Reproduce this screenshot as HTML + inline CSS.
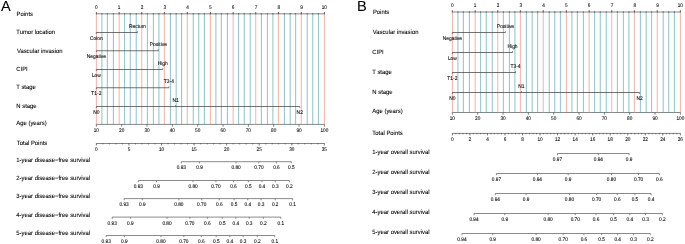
<!DOCTYPE html>
<html><head><meta charset="utf-8"><style>
html,body{margin:0;padding:0;background:#fff;}
body{width:685px;height:244px;overflow:hidden;}
svg{display:block;font-family:"Liberation Sans", sans-serif;text-rendering:geometricPrecision;}
text{stroke:#000;stroke-width:0.07px;}
</style></head><body>
<div style="will-change:transform;width:685px;height:244px"><svg width="685" height="244" viewBox="0 0 685 244">
<rect width="685" height="244" fill="#fff"/>
<text x="1.00" y="11.10" font-size="14.6" text-anchor="start" fill="#000" stroke-width="0">A</text>
<line x1="96.36" y1="13.80" x2="324.36" y2="13.80" stroke="#b0b0b0" stroke-width="1.6"/>
<line x1="96.36" y1="124.40" x2="324.36" y2="124.40" stroke="#888" stroke-width="1.0"/>
<line x1="96.36" y1="13.80" x2="96.36" y2="124.90" stroke="#e98570" stroke-width="0.85" stroke-opacity="0.75"/>
<line x1="101.92" y1="13.80" x2="101.92" y2="124.90" stroke="#4a9fa5" stroke-width="0.85" stroke-opacity="0.75"/>
<line x1="107.35" y1="13.80" x2="107.35" y2="124.90" stroke="#4a9fa5" stroke-width="0.85" stroke-opacity="0.75"/>
<line x1="113.39" y1="13.80" x2="113.39" y2="124.90" stroke="#4a9fa5" stroke-width="0.85" stroke-opacity="0.75"/>
<line x1="119.16" y1="13.80" x2="119.16" y2="124.90" stroke="#e98570" stroke-width="0.85" stroke-opacity="0.75"/>
<line x1="124.64" y1="13.80" x2="124.64" y2="124.90" stroke="#4a9fa5" stroke-width="0.85" stroke-opacity="0.75"/>
<line x1="130.26" y1="13.80" x2="130.26" y2="124.90" stroke="#4a9fa5" stroke-width="0.85" stroke-opacity="0.75"/>
<line x1="136.22" y1="13.80" x2="136.22" y2="124.90" stroke="#4a9fa5" stroke-width="0.85" stroke-opacity="0.75"/>
<line x1="141.76" y1="13.80" x2="141.76" y2="124.90" stroke="#e98570" stroke-width="0.85" stroke-opacity="0.75"/>
<line x1="147.37" y1="13.80" x2="147.37" y2="124.90" stroke="#4a9fa5" stroke-width="0.85" stroke-opacity="0.75"/>
<line x1="153.36" y1="13.80" x2="153.36" y2="124.90" stroke="#4a9fa5" stroke-width="0.85" stroke-opacity="0.75"/>
<line x1="158.92" y1="13.80" x2="158.92" y2="124.90" stroke="#4a9fa5" stroke-width="0.85" stroke-opacity="0.75"/>
<line x1="164.35" y1="13.80" x2="164.35" y2="124.90" stroke="#e98570" stroke-width="0.85" stroke-opacity="0.75"/>
<line x1="170.39" y1="13.80" x2="170.39" y2="124.90" stroke="#4a9fa5" stroke-width="0.85" stroke-opacity="0.75"/>
<line x1="176.16" y1="13.80" x2="176.16" y2="124.90" stroke="#4a9fa5" stroke-width="0.85" stroke-opacity="0.75"/>
<line x1="181.64" y1="13.80" x2="181.64" y2="124.90" stroke="#4a9fa5" stroke-width="0.85" stroke-opacity="0.75"/>
<line x1="187.26" y1="13.80" x2="187.26" y2="124.90" stroke="#e98570" stroke-width="0.85" stroke-opacity="0.75"/>
<line x1="193.22" y1="13.80" x2="193.22" y2="124.90" stroke="#4a9fa5" stroke-width="0.85" stroke-opacity="0.75"/>
<line x1="198.76" y1="13.80" x2="198.76" y2="124.90" stroke="#4a9fa5" stroke-width="0.85" stroke-opacity="0.75"/>
<line x1="204.37" y1="13.80" x2="204.37" y2="124.90" stroke="#4a9fa5" stroke-width="0.85" stroke-opacity="0.75"/>
<line x1="210.36" y1="13.80" x2="210.36" y2="124.90" stroke="#e98570" stroke-width="0.85" stroke-opacity="0.75"/>
<line x1="215.92" y1="13.80" x2="215.92" y2="124.90" stroke="#4a9fa5" stroke-width="0.85" stroke-opacity="0.75"/>
<line x1="221.35" y1="13.80" x2="221.35" y2="124.90" stroke="#4a9fa5" stroke-width="0.85" stroke-opacity="0.75"/>
<line x1="227.39" y1="13.80" x2="227.39" y2="124.90" stroke="#4a9fa5" stroke-width="0.85" stroke-opacity="0.75"/>
<line x1="233.16" y1="13.80" x2="233.16" y2="124.90" stroke="#e98570" stroke-width="0.85" stroke-opacity="0.75"/>
<line x1="238.64" y1="13.80" x2="238.64" y2="124.90" stroke="#4a9fa5" stroke-width="0.85" stroke-opacity="0.75"/>
<line x1="244.26" y1="13.80" x2="244.26" y2="124.90" stroke="#4a9fa5" stroke-width="0.85" stroke-opacity="0.75"/>
<line x1="250.22" y1="13.80" x2="250.22" y2="124.90" stroke="#4a9fa5" stroke-width="0.85" stroke-opacity="0.75"/>
<line x1="255.76" y1="13.80" x2="255.76" y2="124.90" stroke="#e98570" stroke-width="0.85" stroke-opacity="0.75"/>
<line x1="261.37" y1="13.80" x2="261.37" y2="124.90" stroke="#4a9fa5" stroke-width="0.85" stroke-opacity="0.75"/>
<line x1="267.36" y1="13.80" x2="267.36" y2="124.90" stroke="#4a9fa5" stroke-width="0.85" stroke-opacity="0.75"/>
<line x1="272.92" y1="13.80" x2="272.92" y2="124.90" stroke="#4a9fa5" stroke-width="0.85" stroke-opacity="0.75"/>
<line x1="278.35" y1="13.80" x2="278.35" y2="124.90" stroke="#e98570" stroke-width="0.85" stroke-opacity="0.75"/>
<line x1="284.39" y1="13.80" x2="284.39" y2="124.90" stroke="#4a9fa5" stroke-width="0.85" stroke-opacity="0.75"/>
<line x1="290.16" y1="13.80" x2="290.16" y2="124.90" stroke="#4a9fa5" stroke-width="0.85" stroke-opacity="0.75"/>
<line x1="295.64" y1="13.80" x2="295.64" y2="124.90" stroke="#4a9fa5" stroke-width="0.85" stroke-opacity="0.75"/>
<line x1="301.26" y1="13.80" x2="301.26" y2="124.90" stroke="#e98570" stroke-width="0.85" stroke-opacity="0.75"/>
<line x1="307.22" y1="13.80" x2="307.22" y2="124.90" stroke="#4a9fa5" stroke-width="0.85" stroke-opacity="0.75"/>
<line x1="312.76" y1="13.80" x2="312.76" y2="124.90" stroke="#4a9fa5" stroke-width="0.85" stroke-opacity="0.75"/>
<line x1="318.37" y1="13.80" x2="318.37" y2="124.90" stroke="#4a9fa5" stroke-width="0.85" stroke-opacity="0.75"/>
<line x1="324.36" y1="13.80" x2="324.36" y2="124.90" stroke="#e98570" stroke-width="0.85" stroke-opacity="0.75"/>
<line x1="96.36" y1="14.30" x2="96.36" y2="12.00" stroke="#333" stroke-width="0.8"/>
<line x1="101.92" y1="14.30" x2="101.92" y2="13.20" stroke="#333" stroke-width="0.8"/>
<line x1="107.35" y1="14.30" x2="107.35" y2="13.20" stroke="#333" stroke-width="0.8"/>
<line x1="113.39" y1="14.30" x2="113.39" y2="13.20" stroke="#333" stroke-width="0.8"/>
<line x1="119.16" y1="14.30" x2="119.16" y2="12.00" stroke="#333" stroke-width="0.8"/>
<line x1="124.64" y1="14.30" x2="124.64" y2="13.20" stroke="#333" stroke-width="0.8"/>
<line x1="130.26" y1="14.30" x2="130.26" y2="13.20" stroke="#333" stroke-width="0.8"/>
<line x1="136.22" y1="14.30" x2="136.22" y2="13.20" stroke="#333" stroke-width="0.8"/>
<line x1="141.76" y1="14.30" x2="141.76" y2="12.00" stroke="#333" stroke-width="0.8"/>
<line x1="147.37" y1="14.30" x2="147.37" y2="13.20" stroke="#333" stroke-width="0.8"/>
<line x1="153.36" y1="14.30" x2="153.36" y2="13.20" stroke="#333" stroke-width="0.8"/>
<line x1="158.92" y1="14.30" x2="158.92" y2="13.20" stroke="#333" stroke-width="0.8"/>
<line x1="164.35" y1="14.30" x2="164.35" y2="12.00" stroke="#333" stroke-width="0.8"/>
<line x1="170.39" y1="14.30" x2="170.39" y2="13.20" stroke="#333" stroke-width="0.8"/>
<line x1="176.16" y1="14.30" x2="176.16" y2="13.20" stroke="#333" stroke-width="0.8"/>
<line x1="181.64" y1="14.30" x2="181.64" y2="13.20" stroke="#333" stroke-width="0.8"/>
<line x1="187.26" y1="14.30" x2="187.26" y2="12.00" stroke="#333" stroke-width="0.8"/>
<line x1="193.22" y1="14.30" x2="193.22" y2="13.20" stroke="#333" stroke-width="0.8"/>
<line x1="198.76" y1="14.30" x2="198.76" y2="13.20" stroke="#333" stroke-width="0.8"/>
<line x1="204.37" y1="14.30" x2="204.37" y2="13.20" stroke="#333" stroke-width="0.8"/>
<line x1="210.36" y1="14.30" x2="210.36" y2="12.00" stroke="#333" stroke-width="0.8"/>
<line x1="215.92" y1="14.30" x2="215.92" y2="13.20" stroke="#333" stroke-width="0.8"/>
<line x1="221.35" y1="14.30" x2="221.35" y2="13.20" stroke="#333" stroke-width="0.8"/>
<line x1="227.39" y1="14.30" x2="227.39" y2="13.20" stroke="#333" stroke-width="0.8"/>
<line x1="233.16" y1="14.30" x2="233.16" y2="12.00" stroke="#333" stroke-width="0.8"/>
<line x1="238.64" y1="14.30" x2="238.64" y2="13.20" stroke="#333" stroke-width="0.8"/>
<line x1="244.26" y1="14.30" x2="244.26" y2="13.20" stroke="#333" stroke-width="0.8"/>
<line x1="250.22" y1="14.30" x2="250.22" y2="13.20" stroke="#333" stroke-width="0.8"/>
<line x1="255.76" y1="14.30" x2="255.76" y2="12.00" stroke="#333" stroke-width="0.8"/>
<line x1="261.37" y1="14.30" x2="261.37" y2="13.20" stroke="#333" stroke-width="0.8"/>
<line x1="267.36" y1="14.30" x2="267.36" y2="13.20" stroke="#333" stroke-width="0.8"/>
<line x1="272.92" y1="14.30" x2="272.92" y2="13.20" stroke="#333" stroke-width="0.8"/>
<line x1="278.35" y1="14.30" x2="278.35" y2="12.00" stroke="#333" stroke-width="0.8"/>
<line x1="284.39" y1="14.30" x2="284.39" y2="13.20" stroke="#333" stroke-width="0.8"/>
<line x1="290.16" y1="14.30" x2="290.16" y2="13.20" stroke="#333" stroke-width="0.8"/>
<line x1="295.64" y1="14.30" x2="295.64" y2="13.20" stroke="#333" stroke-width="0.8"/>
<line x1="301.26" y1="14.30" x2="301.26" y2="12.00" stroke="#333" stroke-width="0.8"/>
<line x1="307.22" y1="14.30" x2="307.22" y2="13.20" stroke="#333" stroke-width="0.8"/>
<line x1="312.76" y1="14.30" x2="312.76" y2="13.20" stroke="#333" stroke-width="0.8"/>
<line x1="318.37" y1="14.30" x2="318.37" y2="13.20" stroke="#333" stroke-width="0.8"/>
<line x1="324.36" y1="14.30" x2="324.36" y2="12.00" stroke="#333" stroke-width="0.8"/>
<text transform="translate(96.36 9.30) scale(1 1.12)" font-size="4.7" text-anchor="middle" fill="#000" stroke-width="0.15">0</text>
<text transform="translate(119.16 9.30) scale(1 1.12)" font-size="4.7" text-anchor="middle" fill="#000" stroke-width="0.15">1</text>
<text transform="translate(141.96 9.30) scale(1 1.12)" font-size="4.7" text-anchor="middle" fill="#000" stroke-width="0.15">2</text>
<text transform="translate(164.76 9.30) scale(1 1.12)" font-size="4.7" text-anchor="middle" fill="#000" stroke-width="0.15">3</text>
<text transform="translate(187.56 9.30) scale(1 1.12)" font-size="4.7" text-anchor="middle" fill="#000" stroke-width="0.15">4</text>
<text transform="translate(210.36 9.30) scale(1 1.12)" font-size="4.7" text-anchor="middle" fill="#000" stroke-width="0.15">5</text>
<text transform="translate(233.16 9.30) scale(1 1.12)" font-size="4.7" text-anchor="middle" fill="#000" stroke-width="0.15">6</text>
<text transform="translate(255.96 9.30) scale(1 1.12)" font-size="4.7" text-anchor="middle" fill="#000" stroke-width="0.15">7</text>
<text transform="translate(278.76 9.30) scale(1 1.12)" font-size="4.7" text-anchor="middle" fill="#000" stroke-width="0.15">8</text>
<text transform="translate(301.56 9.30) scale(1 1.12)" font-size="4.7" text-anchor="middle" fill="#000" stroke-width="0.15">9</text>
<text transform="translate(324.36 9.30) scale(1 1.12)" font-size="4.7" text-anchor="middle" fill="#000" stroke-width="0.15">10</text>
<text transform="translate(16.60 15.60) scale(1 1.05)" font-size="5.9" text-anchor="start" fill="#000">Points</text>
<text transform="translate(16.30 33.80) scale(1 1.05)" font-size="5.9" text-anchor="start" fill="#000">Tumor location</text>
<text transform="translate(16.90 52.60) scale(1 1.05)" font-size="5.9" text-anchor="start" fill="#000">Vascular invasion</text>
<text transform="translate(16.30 70.70) scale(1 1.05)" font-size="5.9" text-anchor="start" fill="#000">CIPI</text>
<text transform="translate(16.30 88.90) scale(1 1.05)" font-size="5.9" text-anchor="start" fill="#000">T stage</text>
<text transform="translate(16.30 107.50) scale(1 1.05)" font-size="5.9" text-anchor="start" fill="#000">N stage</text>
<text transform="translate(16.30 125.30) scale(1 1.05)" font-size="5.9" text-anchor="start" fill="#000">Age (years)</text>
<text transform="translate(16.80 145.30) scale(1 1.05)" font-size="5.9" text-anchor="start" fill="#000">Total Points</text>
<text transform="translate(16.30 161.80) scale(1 1.05)" font-size="5.9" text-anchor="start" fill="#000">1-year disease−free survival</text>
<text transform="translate(16.30 179.90) scale(1 1.05)" font-size="5.9" text-anchor="start" fill="#000">2-year disease−free survival</text>
<text transform="translate(16.30 198.40) scale(1 1.05)" font-size="5.9" text-anchor="start" fill="#000">3-year disease−free survival</text>
<text transform="translate(16.30 216.90) scale(1 1.05)" font-size="5.9" text-anchor="start" fill="#000">4-year disease−free survival</text>
<text transform="translate(16.30 235.40) scale(1 1.05)" font-size="5.9" text-anchor="start" fill="#000">5-year disease−free survival</text>
<line x1="96.36" y1="32.50" x2="137.40" y2="32.50" stroke="#444" stroke-width="0.75"/>
<line x1="96.36" y1="32.50" x2="96.36" y2="33.80" stroke="#444" stroke-width="0.7"/>
<text transform="translate(96.36 39.50) scale(1 1.08)" font-size="4.9" text-anchor="middle" fill="#000">Colon</text>
<line x1="137.40" y1="32.50" x2="137.40" y2="31.20" stroke="#444" stroke-width="0.7"/>
<text transform="translate(137.40 27.60) scale(1 1.08)" font-size="4.9" text-anchor="middle" fill="#000">Rectum</text>
<line x1="96.36" y1="50.75" x2="158.38" y2="50.75" stroke="#444" stroke-width="0.75"/>
<line x1="96.36" y1="50.75" x2="96.36" y2="52.05" stroke="#444" stroke-width="0.7"/>
<text transform="translate(96.36 57.75) scale(1 1.08)" font-size="4.9" text-anchor="middle" fill="#000">Negative</text>
<line x1="158.38" y1="50.75" x2="158.38" y2="49.45" stroke="#444" stroke-width="0.7"/>
<text transform="translate(158.38 45.85) scale(1 1.08)" font-size="4.9" text-anchor="middle" fill="#000">Positive</text>
<line x1="96.36" y1="69.50" x2="162.71" y2="69.50" stroke="#444" stroke-width="0.75"/>
<line x1="96.36" y1="69.50" x2="96.36" y2="70.80" stroke="#444" stroke-width="0.7"/>
<text transform="translate(96.36 76.50) scale(1 1.08)" font-size="4.9" text-anchor="middle" fill="#000">Low</text>
<line x1="162.71" y1="69.50" x2="162.71" y2="68.20" stroke="#444" stroke-width="0.7"/>
<text transform="translate(162.71 64.60) scale(1 1.08)" font-size="4.9" text-anchor="middle" fill="#000">High</text>
<line x1="96.36" y1="87.75" x2="168.86" y2="87.75" stroke="#444" stroke-width="0.75"/>
<line x1="96.36" y1="87.75" x2="96.36" y2="89.05" stroke="#444" stroke-width="0.7"/>
<text transform="translate(96.36 94.75) scale(1 1.08)" font-size="4.9" text-anchor="middle" fill="#000">T1-2</text>
<line x1="168.86" y1="87.75" x2="168.86" y2="86.45" stroke="#444" stroke-width="0.7"/>
<text transform="translate(168.86 82.85) scale(1 1.08)" font-size="4.9" text-anchor="middle" fill="#000">T3-4</text>
<line x1="96.36" y1="106.50" x2="299.74" y2="106.50" stroke="#444" stroke-width="0.75"/>
<line x1="96.36" y1="106.50" x2="96.36" y2="107.80" stroke="#444" stroke-width="0.7"/>
<text transform="translate(96.36 113.50) scale(1 1.08)" font-size="4.9" text-anchor="middle" fill="#000">N0</text>
<line x1="175.70" y1="106.50" x2="175.70" y2="105.20" stroke="#444" stroke-width="0.7"/>
<text transform="translate(175.70 101.60) scale(1 1.08)" font-size="4.9" text-anchor="middle" fill="#000">N1</text>
<line x1="299.74" y1="106.50" x2="299.74" y2="107.80" stroke="#444" stroke-width="0.7"/>
<text transform="translate(299.74 113.50) scale(1 1.08)" font-size="4.9" text-anchor="middle" fill="#000">N2</text>
<line x1="96.36" y1="124.40" x2="96.36" y2="126.60" stroke="#555" stroke-width="0.8"/>
<text transform="translate(96.36 131.80) scale(1 1.12)" font-size="4.7" text-anchor="middle" fill="#000" stroke-width="0.15">10</text>
<line x1="121.69" y1="124.40" x2="121.69" y2="126.60" stroke="#555" stroke-width="0.8"/>
<text transform="translate(121.69 131.80) scale(1 1.12)" font-size="4.7" text-anchor="middle" fill="#000" stroke-width="0.15">20</text>
<line x1="147.03" y1="124.40" x2="147.03" y2="126.60" stroke="#555" stroke-width="0.8"/>
<text transform="translate(147.03 131.80) scale(1 1.12)" font-size="4.7" text-anchor="middle" fill="#000" stroke-width="0.15">30</text>
<line x1="172.36" y1="124.40" x2="172.36" y2="126.60" stroke="#555" stroke-width="0.8"/>
<text transform="translate(172.36 131.80) scale(1 1.12)" font-size="4.7" text-anchor="middle" fill="#000" stroke-width="0.15">40</text>
<line x1="197.69" y1="124.40" x2="197.69" y2="126.60" stroke="#555" stroke-width="0.8"/>
<text transform="translate(197.69 131.80) scale(1 1.12)" font-size="4.7" text-anchor="middle" fill="#000" stroke-width="0.15">50</text>
<line x1="223.03" y1="124.40" x2="223.03" y2="126.60" stroke="#555" stroke-width="0.8"/>
<text transform="translate(223.03 131.80) scale(1 1.12)" font-size="4.7" text-anchor="middle" fill="#000" stroke-width="0.15">60</text>
<line x1="248.36" y1="124.40" x2="248.36" y2="126.60" stroke="#555" stroke-width="0.8"/>
<text transform="translate(248.36 131.80) scale(1 1.12)" font-size="4.7" text-anchor="middle" fill="#000" stroke-width="0.15">70</text>
<line x1="273.69" y1="124.40" x2="273.69" y2="126.60" stroke="#555" stroke-width="0.8"/>
<text transform="translate(273.69 131.80) scale(1 1.12)" font-size="4.7" text-anchor="middle" fill="#000" stroke-width="0.15">80</text>
<line x1="299.03" y1="124.40" x2="299.03" y2="126.60" stroke="#555" stroke-width="0.8"/>
<text transform="translate(299.03 131.80) scale(1 1.12)" font-size="4.7" text-anchor="middle" fill="#000" stroke-width="0.15">90</text>
<line x1="324.36" y1="124.40" x2="324.36" y2="126.60" stroke="#555" stroke-width="0.8"/>
<text transform="translate(324.36 131.80) scale(1 1.12)" font-size="4.7" text-anchor="middle" fill="#000" stroke-width="0.15">100</text>
<line x1="96.36" y1="143.50" x2="324.36" y2="143.50" stroke="#858585" stroke-width="1.0"/>
<line x1="96.36" y1="143.30" x2="96.36" y2="145.50" stroke="#444" stroke-width="0.75"/>
<text transform="translate(96.36 150.90) scale(1 1.12)" font-size="4.7" text-anchor="middle" fill="#000" stroke-width="0.15">0</text>
<line x1="102.87" y1="143.30" x2="102.87" y2="144.40" stroke="#444" stroke-width="0.75"/>
<line x1="109.39" y1="143.30" x2="109.39" y2="144.40" stroke="#444" stroke-width="0.75"/>
<line x1="115.90" y1="143.30" x2="115.90" y2="144.40" stroke="#444" stroke-width="0.75"/>
<line x1="122.42" y1="143.30" x2="122.42" y2="144.40" stroke="#444" stroke-width="0.75"/>
<line x1="128.93" y1="143.30" x2="128.93" y2="145.50" stroke="#444" stroke-width="0.75"/>
<text transform="translate(128.93 150.90) scale(1 1.12)" font-size="4.7" text-anchor="middle" fill="#000" stroke-width="0.15">5</text>
<line x1="135.45" y1="143.30" x2="135.45" y2="144.40" stroke="#444" stroke-width="0.75"/>
<line x1="141.96" y1="143.30" x2="141.96" y2="144.40" stroke="#444" stroke-width="0.75"/>
<line x1="148.47" y1="143.30" x2="148.47" y2="144.40" stroke="#444" stroke-width="0.75"/>
<line x1="154.99" y1="143.30" x2="154.99" y2="144.40" stroke="#444" stroke-width="0.75"/>
<line x1="161.50" y1="143.30" x2="161.50" y2="145.50" stroke="#444" stroke-width="0.75"/>
<text transform="translate(161.50 150.90) scale(1 1.12)" font-size="4.7" text-anchor="middle" fill="#000" stroke-width="0.15">10</text>
<line x1="168.02" y1="143.30" x2="168.02" y2="144.40" stroke="#444" stroke-width="0.75"/>
<line x1="174.53" y1="143.30" x2="174.53" y2="144.40" stroke="#444" stroke-width="0.75"/>
<line x1="181.05" y1="143.30" x2="181.05" y2="144.40" stroke="#444" stroke-width="0.75"/>
<line x1="187.56" y1="143.30" x2="187.56" y2="144.40" stroke="#444" stroke-width="0.75"/>
<line x1="194.07" y1="143.30" x2="194.07" y2="145.50" stroke="#444" stroke-width="0.75"/>
<text transform="translate(194.07 150.90) scale(1 1.12)" font-size="4.7" text-anchor="middle" fill="#000" stroke-width="0.15">15</text>
<line x1="200.59" y1="143.30" x2="200.59" y2="144.40" stroke="#444" stroke-width="0.75"/>
<line x1="207.10" y1="143.30" x2="207.10" y2="144.40" stroke="#444" stroke-width="0.75"/>
<line x1="213.62" y1="143.30" x2="213.62" y2="144.40" stroke="#444" stroke-width="0.75"/>
<line x1="220.13" y1="143.30" x2="220.13" y2="144.40" stroke="#444" stroke-width="0.75"/>
<line x1="226.65" y1="143.30" x2="226.65" y2="145.50" stroke="#444" stroke-width="0.75"/>
<text transform="translate(226.65 150.90) scale(1 1.12)" font-size="4.7" text-anchor="middle" fill="#000" stroke-width="0.15">20</text>
<line x1="233.16" y1="143.30" x2="233.16" y2="144.40" stroke="#444" stroke-width="0.75"/>
<line x1="239.67" y1="143.30" x2="239.67" y2="144.40" stroke="#444" stroke-width="0.75"/>
<line x1="246.19" y1="143.30" x2="246.19" y2="144.40" stroke="#444" stroke-width="0.75"/>
<line x1="252.70" y1="143.30" x2="252.70" y2="144.40" stroke="#444" stroke-width="0.75"/>
<line x1="259.22" y1="143.30" x2="259.22" y2="145.50" stroke="#444" stroke-width="0.75"/>
<text transform="translate(259.22 150.90) scale(1 1.12)" font-size="4.7" text-anchor="middle" fill="#000" stroke-width="0.15">25</text>
<line x1="265.73" y1="143.30" x2="265.73" y2="144.40" stroke="#444" stroke-width="0.75"/>
<line x1="272.25" y1="143.30" x2="272.25" y2="144.40" stroke="#444" stroke-width="0.75"/>
<line x1="278.76" y1="143.30" x2="278.76" y2="144.40" stroke="#444" stroke-width="0.75"/>
<line x1="285.27" y1="143.30" x2="285.27" y2="144.40" stroke="#444" stroke-width="0.75"/>
<line x1="291.79" y1="143.30" x2="291.79" y2="145.50" stroke="#444" stroke-width="0.75"/>
<text transform="translate(291.79 150.90) scale(1 1.12)" font-size="4.7" text-anchor="middle" fill="#000" stroke-width="0.15">30</text>
<line x1="298.30" y1="143.30" x2="298.30" y2="144.40" stroke="#444" stroke-width="0.75"/>
<line x1="304.82" y1="143.30" x2="304.82" y2="144.40" stroke="#444" stroke-width="0.75"/>
<line x1="311.33" y1="143.30" x2="311.33" y2="144.40" stroke="#444" stroke-width="0.75"/>
<line x1="317.85" y1="143.30" x2="317.85" y2="144.40" stroke="#444" stroke-width="0.75"/>
<line x1="324.36" y1="143.30" x2="324.36" y2="145.50" stroke="#444" stroke-width="0.75"/>
<text transform="translate(324.36 150.90) scale(1 1.12)" font-size="4.7" text-anchor="middle" fill="#000" stroke-width="0.15">35</text>
<line x1="181.29" y1="161.70" x2="291.33" y2="161.70" stroke="#8a8a8a" stroke-width="1.0"/>
<line x1="181.29" y1="161.70" x2="181.29" y2="163.40" stroke="#6a6a6a" stroke-width="0.8"/>
<text transform="translate(181.29 169.00) scale(1 1.15)" font-size="4.75" text-anchor="middle" fill="#000">0.93</text>
<line x1="199.47" y1="161.70" x2="199.47" y2="163.40" stroke="#6a6a6a" stroke-width="0.8"/>
<text transform="translate(199.47 169.00) scale(1 1.15)" font-size="4.75" text-anchor="middle" fill="#000">0.9</text>
<line x1="236.06" y1="161.70" x2="236.06" y2="163.40" stroke="#6a6a6a" stroke-width="0.8"/>
<text transform="translate(236.06 169.00) scale(1 1.15)" font-size="4.75" text-anchor="middle" fill="#000">0.80</text>
<line x1="258.93" y1="161.70" x2="258.93" y2="163.40" stroke="#6a6a6a" stroke-width="0.8"/>
<text transform="translate(258.93 169.00) scale(1 1.15)" font-size="4.75" text-anchor="middle" fill="#000">0.70</text>
<line x1="276.45" y1="161.70" x2="276.45" y2="163.40" stroke="#6a6a6a" stroke-width="0.8"/>
<text transform="translate(276.45 169.00) scale(1 1.15)" font-size="4.75" text-anchor="middle" fill="#000">0.6</text>
<line x1="291.33" y1="161.70" x2="291.33" y2="163.40" stroke="#6a6a6a" stroke-width="0.8"/>
<text transform="translate(291.33 169.00) scale(1 1.15)" font-size="4.75" text-anchor="middle" fill="#000">0.5</text>
<line x1="138.29" y1="180.50" x2="289.40" y2="180.50" stroke="#8a8a8a" stroke-width="1.0"/>
<line x1="138.29" y1="180.50" x2="138.29" y2="182.20" stroke="#6a6a6a" stroke-width="0.8"/>
<text transform="translate(138.29 187.60) scale(1 1.15)" font-size="4.75" text-anchor="middle" fill="#000">0.93</text>
<line x1="156.47" y1="180.50" x2="156.47" y2="182.20" stroke="#6a6a6a" stroke-width="0.8"/>
<text transform="translate(156.47 187.60) scale(1 1.15)" font-size="4.75" text-anchor="middle" fill="#000">0.9</text>
<line x1="193.06" y1="180.50" x2="193.06" y2="182.20" stroke="#6a6a6a" stroke-width="0.8"/>
<text transform="translate(193.06 187.60) scale(1 1.15)" font-size="4.75" text-anchor="middle" fill="#000">0.80</text>
<line x1="215.93" y1="180.50" x2="215.93" y2="182.20" stroke="#6a6a6a" stroke-width="0.8"/>
<text transform="translate(215.93 187.60) scale(1 1.15)" font-size="4.75" text-anchor="middle" fill="#000">0.70</text>
<line x1="233.45" y1="180.50" x2="233.45" y2="182.20" stroke="#6a6a6a" stroke-width="0.8"/>
<text transform="translate(233.45 187.60) scale(1 1.15)" font-size="4.75" text-anchor="middle" fill="#000">0.6</text>
<line x1="248.33" y1="180.50" x2="248.33" y2="182.20" stroke="#6a6a6a" stroke-width="0.8"/>
<text transform="translate(248.33 187.60) scale(1 1.15)" font-size="4.75" text-anchor="middle" fill="#000">0.5</text>
<line x1="261.94" y1="180.50" x2="261.94" y2="182.20" stroke="#6a6a6a" stroke-width="0.8"/>
<text transform="translate(261.94 187.60) scale(1 1.15)" font-size="4.75" text-anchor="middle" fill="#000">0.4</text>
<line x1="275.25" y1="180.50" x2="275.25" y2="182.20" stroke="#6a6a6a" stroke-width="0.8"/>
<text transform="translate(275.25 187.60) scale(1 1.15)" font-size="4.75" text-anchor="middle" fill="#000">0.3</text>
<line x1="289.40" y1="180.50" x2="289.40" y2="182.20" stroke="#6a6a6a" stroke-width="0.8"/>
<text transform="translate(289.40 187.60) scale(1 1.15)" font-size="4.75" text-anchor="middle" fill="#000">0.2</text>
<line x1="124.09" y1="198.60" x2="292.67" y2="198.60" stroke="#8a8a8a" stroke-width="1.0"/>
<line x1="124.09" y1="198.60" x2="124.09" y2="200.30" stroke="#6a6a6a" stroke-width="0.8"/>
<text transform="translate(124.09 206.00) scale(1 1.15)" font-size="4.75" text-anchor="middle" fill="#000">0.93</text>
<line x1="142.27" y1="198.60" x2="142.27" y2="200.30" stroke="#6a6a6a" stroke-width="0.8"/>
<text transform="translate(142.27 206.00) scale(1 1.15)" font-size="4.75" text-anchor="middle" fill="#000">0.9</text>
<line x1="178.86" y1="198.60" x2="178.86" y2="200.30" stroke="#6a6a6a" stroke-width="0.8"/>
<text transform="translate(178.86 206.00) scale(1 1.15)" font-size="4.75" text-anchor="middle" fill="#000">0.80</text>
<line x1="201.73" y1="198.60" x2="201.73" y2="200.30" stroke="#6a6a6a" stroke-width="0.8"/>
<text transform="translate(201.73 206.00) scale(1 1.15)" font-size="4.75" text-anchor="middle" fill="#000">0.70</text>
<line x1="219.25" y1="198.60" x2="219.25" y2="200.30" stroke="#6a6a6a" stroke-width="0.8"/>
<text transform="translate(219.25 206.00) scale(1 1.15)" font-size="4.75" text-anchor="middle" fill="#000">0.6</text>
<line x1="234.13" y1="198.60" x2="234.13" y2="200.30" stroke="#6a6a6a" stroke-width="0.8"/>
<text transform="translate(234.13 206.00) scale(1 1.15)" font-size="4.75" text-anchor="middle" fill="#000">0.5</text>
<line x1="247.74" y1="198.60" x2="247.74" y2="200.30" stroke="#6a6a6a" stroke-width="0.8"/>
<text transform="translate(247.74 206.00) scale(1 1.15)" font-size="4.75" text-anchor="middle" fill="#000">0.4</text>
<line x1="261.05" y1="198.60" x2="261.05" y2="200.30" stroke="#6a6a6a" stroke-width="0.8"/>
<text transform="translate(261.05 206.00) scale(1 1.15)" font-size="4.75" text-anchor="middle" fill="#000">0.3</text>
<line x1="275.20" y1="198.60" x2="275.20" y2="200.30" stroke="#6a6a6a" stroke-width="0.8"/>
<text transform="translate(275.20 206.00) scale(1 1.15)" font-size="4.75" text-anchor="middle" fill="#000">0.2</text>
<line x1="292.67" y1="198.60" x2="292.67" y2="200.30" stroke="#6a6a6a" stroke-width="0.8"/>
<text transform="translate(292.67 206.00) scale(1 1.15)" font-size="4.75" text-anchor="middle" fill="#000">0.1</text>
<line x1="112.24" y1="217.10" x2="280.82" y2="217.10" stroke="#8a8a8a" stroke-width="1.0"/>
<line x1="112.24" y1="217.10" x2="112.24" y2="218.80" stroke="#6a6a6a" stroke-width="0.8"/>
<text transform="translate(112.24 224.90) scale(1 1.15)" font-size="4.75" text-anchor="middle" fill="#000">0.93</text>
<line x1="130.42" y1="217.10" x2="130.42" y2="218.80" stroke="#6a6a6a" stroke-width="0.8"/>
<text transform="translate(130.42 224.90) scale(1 1.15)" font-size="4.75" text-anchor="middle" fill="#000">0.9</text>
<line x1="167.01" y1="217.10" x2="167.01" y2="218.80" stroke="#6a6a6a" stroke-width="0.8"/>
<text transform="translate(167.01 224.90) scale(1 1.15)" font-size="4.75" text-anchor="middle" fill="#000">0.80</text>
<line x1="189.88" y1="217.10" x2="189.88" y2="218.80" stroke="#6a6a6a" stroke-width="0.8"/>
<text transform="translate(189.88 224.90) scale(1 1.15)" font-size="4.75" text-anchor="middle" fill="#000">0.70</text>
<line x1="207.40" y1="217.10" x2="207.40" y2="218.80" stroke="#6a6a6a" stroke-width="0.8"/>
<text transform="translate(207.40 224.90) scale(1 1.15)" font-size="4.75" text-anchor="middle" fill="#000">0.6</text>
<line x1="222.28" y1="217.10" x2="222.28" y2="218.80" stroke="#6a6a6a" stroke-width="0.8"/>
<text transform="translate(222.28 224.90) scale(1 1.15)" font-size="4.75" text-anchor="middle" fill="#000">0.5</text>
<line x1="235.89" y1="217.10" x2="235.89" y2="218.80" stroke="#6a6a6a" stroke-width="0.8"/>
<text transform="translate(235.89 224.90) scale(1 1.15)" font-size="4.75" text-anchor="middle" fill="#000">0.4</text>
<line x1="249.20" y1="217.10" x2="249.20" y2="218.80" stroke="#6a6a6a" stroke-width="0.8"/>
<text transform="translate(249.20 224.90) scale(1 1.15)" font-size="4.75" text-anchor="middle" fill="#000">0.3</text>
<line x1="263.35" y1="217.10" x2="263.35" y2="218.80" stroke="#6a6a6a" stroke-width="0.8"/>
<text transform="translate(263.35 224.90) scale(1 1.15)" font-size="4.75" text-anchor="middle" fill="#000">0.2</text>
<line x1="280.82" y1="217.10" x2="280.82" y2="218.80" stroke="#6a6a6a" stroke-width="0.8"/>
<text transform="translate(280.82 224.90) scale(1 1.15)" font-size="4.75" text-anchor="middle" fill="#000">0.1</text>
<line x1="106.19" y1="235.50" x2="274.77" y2="235.50" stroke="#8a8a8a" stroke-width="1.0"/>
<line x1="106.19" y1="235.50" x2="106.19" y2="237.20" stroke="#6a6a6a" stroke-width="0.8"/>
<text transform="translate(106.19 243.00) scale(1 1.15)" font-size="4.75" text-anchor="middle" fill="#000">0.93</text>
<line x1="124.37" y1="235.50" x2="124.37" y2="237.20" stroke="#6a6a6a" stroke-width="0.8"/>
<text transform="translate(124.37 243.00) scale(1 1.15)" font-size="4.75" text-anchor="middle" fill="#000">0.9</text>
<line x1="160.96" y1="235.50" x2="160.96" y2="237.20" stroke="#6a6a6a" stroke-width="0.8"/>
<text transform="translate(160.96 243.00) scale(1 1.15)" font-size="4.75" text-anchor="middle" fill="#000">0.80</text>
<line x1="183.83" y1="235.50" x2="183.83" y2="237.20" stroke="#6a6a6a" stroke-width="0.8"/>
<text transform="translate(183.83 243.00) scale(1 1.15)" font-size="4.75" text-anchor="middle" fill="#000">0.70</text>
<line x1="201.35" y1="235.50" x2="201.35" y2="237.20" stroke="#6a6a6a" stroke-width="0.8"/>
<text transform="translate(201.35 243.00) scale(1 1.15)" font-size="4.75" text-anchor="middle" fill="#000">0.6</text>
<line x1="216.23" y1="235.50" x2="216.23" y2="237.20" stroke="#6a6a6a" stroke-width="0.8"/>
<text transform="translate(216.23 243.00) scale(1 1.15)" font-size="4.75" text-anchor="middle" fill="#000">0.5</text>
<line x1="229.84" y1="235.50" x2="229.84" y2="237.20" stroke="#6a6a6a" stroke-width="0.8"/>
<text transform="translate(229.84 243.00) scale(1 1.15)" font-size="4.75" text-anchor="middle" fill="#000">0.4</text>
<line x1="243.15" y1="235.50" x2="243.15" y2="237.20" stroke="#6a6a6a" stroke-width="0.8"/>
<text transform="translate(243.15 243.00) scale(1 1.15)" font-size="4.75" text-anchor="middle" fill="#000">0.3</text>
<line x1="257.30" y1="235.50" x2="257.30" y2="237.20" stroke="#6a6a6a" stroke-width="0.8"/>
<text transform="translate(257.30 243.00) scale(1 1.15)" font-size="4.75" text-anchor="middle" fill="#000">0.2</text>
<line x1="274.77" y1="235.50" x2="274.77" y2="237.20" stroke="#6a6a6a" stroke-width="0.8"/>
<text transform="translate(274.77 243.00) scale(1 1.15)" font-size="4.75" text-anchor="middle" fill="#000">0.1</text>
<text x="356.90" y="10.70" font-size="14.6" text-anchor="start" fill="#000" stroke-width="0">B</text>
<line x1="452.36" y1="12.00" x2="680.36" y2="12.00" stroke="#b0b0b0" stroke-width="1.6"/>
<line x1="452.36" y1="112.50" x2="680.36" y2="112.50" stroke="#888" stroke-width="1.0"/>
<line x1="452.36" y1="12.00" x2="452.36" y2="113.00" stroke="#e98570" stroke-width="0.85" stroke-opacity="0.75"/>
<line x1="457.92" y1="12.00" x2="457.92" y2="113.00" stroke="#4a9fa5" stroke-width="0.85" stroke-opacity="0.75"/>
<line x1="463.35" y1="12.00" x2="463.35" y2="113.00" stroke="#4a9fa5" stroke-width="0.85" stroke-opacity="0.75"/>
<line x1="469.39" y1="12.00" x2="469.39" y2="113.00" stroke="#4a9fa5" stroke-width="0.85" stroke-opacity="0.75"/>
<line x1="475.16" y1="12.00" x2="475.16" y2="113.00" stroke="#e98570" stroke-width="0.85" stroke-opacity="0.75"/>
<line x1="480.64" y1="12.00" x2="480.64" y2="113.00" stroke="#4a9fa5" stroke-width="0.85" stroke-opacity="0.75"/>
<line x1="486.26" y1="12.00" x2="486.26" y2="113.00" stroke="#4a9fa5" stroke-width="0.85" stroke-opacity="0.75"/>
<line x1="492.22" y1="12.00" x2="492.22" y2="113.00" stroke="#4a9fa5" stroke-width="0.85" stroke-opacity="0.75"/>
<line x1="497.76" y1="12.00" x2="497.76" y2="113.00" stroke="#e98570" stroke-width="0.85" stroke-opacity="0.75"/>
<line x1="503.37" y1="12.00" x2="503.37" y2="113.00" stroke="#4a9fa5" stroke-width="0.85" stroke-opacity="0.75"/>
<line x1="509.36" y1="12.00" x2="509.36" y2="113.00" stroke="#4a9fa5" stroke-width="0.85" stroke-opacity="0.75"/>
<line x1="514.92" y1="12.00" x2="514.92" y2="113.00" stroke="#4a9fa5" stroke-width="0.85" stroke-opacity="0.75"/>
<line x1="520.35" y1="12.00" x2="520.35" y2="113.00" stroke="#e98570" stroke-width="0.85" stroke-opacity="0.75"/>
<line x1="526.39" y1="12.00" x2="526.39" y2="113.00" stroke="#4a9fa5" stroke-width="0.85" stroke-opacity="0.75"/>
<line x1="532.16" y1="12.00" x2="532.16" y2="113.00" stroke="#4a9fa5" stroke-width="0.85" stroke-opacity="0.75"/>
<line x1="537.64" y1="12.00" x2="537.64" y2="113.00" stroke="#4a9fa5" stroke-width="0.85" stroke-opacity="0.75"/>
<line x1="543.26" y1="12.00" x2="543.26" y2="113.00" stroke="#e98570" stroke-width="0.85" stroke-opacity="0.75"/>
<line x1="549.22" y1="12.00" x2="549.22" y2="113.00" stroke="#4a9fa5" stroke-width="0.85" stroke-opacity="0.75"/>
<line x1="554.76" y1="12.00" x2="554.76" y2="113.00" stroke="#4a9fa5" stroke-width="0.85" stroke-opacity="0.75"/>
<line x1="560.37" y1="12.00" x2="560.37" y2="113.00" stroke="#4a9fa5" stroke-width="0.85" stroke-opacity="0.75"/>
<line x1="566.36" y1="12.00" x2="566.36" y2="113.00" stroke="#e98570" stroke-width="0.85" stroke-opacity="0.75"/>
<line x1="571.92" y1="12.00" x2="571.92" y2="113.00" stroke="#4a9fa5" stroke-width="0.85" stroke-opacity="0.75"/>
<line x1="577.35" y1="12.00" x2="577.35" y2="113.00" stroke="#4a9fa5" stroke-width="0.85" stroke-opacity="0.75"/>
<line x1="583.39" y1="12.00" x2="583.39" y2="113.00" stroke="#4a9fa5" stroke-width="0.85" stroke-opacity="0.75"/>
<line x1="589.16" y1="12.00" x2="589.16" y2="113.00" stroke="#e98570" stroke-width="0.85" stroke-opacity="0.75"/>
<line x1="594.64" y1="12.00" x2="594.64" y2="113.00" stroke="#4a9fa5" stroke-width="0.85" stroke-opacity="0.75"/>
<line x1="600.26" y1="12.00" x2="600.26" y2="113.00" stroke="#4a9fa5" stroke-width="0.85" stroke-opacity="0.75"/>
<line x1="606.22" y1="12.00" x2="606.22" y2="113.00" stroke="#4a9fa5" stroke-width="0.85" stroke-opacity="0.75"/>
<line x1="611.76" y1="12.00" x2="611.76" y2="113.00" stroke="#e98570" stroke-width="0.85" stroke-opacity="0.75"/>
<line x1="617.37" y1="12.00" x2="617.37" y2="113.00" stroke="#4a9fa5" stroke-width="0.85" stroke-opacity="0.75"/>
<line x1="623.36" y1="12.00" x2="623.36" y2="113.00" stroke="#4a9fa5" stroke-width="0.85" stroke-opacity="0.75"/>
<line x1="628.92" y1="12.00" x2="628.92" y2="113.00" stroke="#4a9fa5" stroke-width="0.85" stroke-opacity="0.75"/>
<line x1="634.35" y1="12.00" x2="634.35" y2="113.00" stroke="#e98570" stroke-width="0.85" stroke-opacity="0.75"/>
<line x1="640.39" y1="12.00" x2="640.39" y2="113.00" stroke="#4a9fa5" stroke-width="0.85" stroke-opacity="0.75"/>
<line x1="646.16" y1="12.00" x2="646.16" y2="113.00" stroke="#4a9fa5" stroke-width="0.85" stroke-opacity="0.75"/>
<line x1="651.64" y1="12.00" x2="651.64" y2="113.00" stroke="#4a9fa5" stroke-width="0.85" stroke-opacity="0.75"/>
<line x1="657.26" y1="12.00" x2="657.26" y2="113.00" stroke="#e98570" stroke-width="0.85" stroke-opacity="0.75"/>
<line x1="663.22" y1="12.00" x2="663.22" y2="113.00" stroke="#4a9fa5" stroke-width="0.85" stroke-opacity="0.75"/>
<line x1="668.76" y1="12.00" x2="668.76" y2="113.00" stroke="#4a9fa5" stroke-width="0.85" stroke-opacity="0.75"/>
<line x1="674.37" y1="12.00" x2="674.37" y2="113.00" stroke="#4a9fa5" stroke-width="0.85" stroke-opacity="0.75"/>
<line x1="680.36" y1="12.00" x2="680.36" y2="113.00" stroke="#e98570" stroke-width="0.85" stroke-opacity="0.75"/>
<line x1="452.36" y1="12.50" x2="452.36" y2="10.20" stroke="#333" stroke-width="0.8"/>
<line x1="457.92" y1="12.50" x2="457.92" y2="11.40" stroke="#333" stroke-width="0.8"/>
<line x1="463.35" y1="12.50" x2="463.35" y2="11.40" stroke="#333" stroke-width="0.8"/>
<line x1="469.39" y1="12.50" x2="469.39" y2="11.40" stroke="#333" stroke-width="0.8"/>
<line x1="475.16" y1="12.50" x2="475.16" y2="10.20" stroke="#333" stroke-width="0.8"/>
<line x1="480.64" y1="12.50" x2="480.64" y2="11.40" stroke="#333" stroke-width="0.8"/>
<line x1="486.26" y1="12.50" x2="486.26" y2="11.40" stroke="#333" stroke-width="0.8"/>
<line x1="492.22" y1="12.50" x2="492.22" y2="11.40" stroke="#333" stroke-width="0.8"/>
<line x1="497.76" y1="12.50" x2="497.76" y2="10.20" stroke="#333" stroke-width="0.8"/>
<line x1="503.37" y1="12.50" x2="503.37" y2="11.40" stroke="#333" stroke-width="0.8"/>
<line x1="509.36" y1="12.50" x2="509.36" y2="11.40" stroke="#333" stroke-width="0.8"/>
<line x1="514.92" y1="12.50" x2="514.92" y2="11.40" stroke="#333" stroke-width="0.8"/>
<line x1="520.35" y1="12.50" x2="520.35" y2="10.20" stroke="#333" stroke-width="0.8"/>
<line x1="526.39" y1="12.50" x2="526.39" y2="11.40" stroke="#333" stroke-width="0.8"/>
<line x1="532.16" y1="12.50" x2="532.16" y2="11.40" stroke="#333" stroke-width="0.8"/>
<line x1="537.64" y1="12.50" x2="537.64" y2="11.40" stroke="#333" stroke-width="0.8"/>
<line x1="543.26" y1="12.50" x2="543.26" y2="10.20" stroke="#333" stroke-width="0.8"/>
<line x1="549.22" y1="12.50" x2="549.22" y2="11.40" stroke="#333" stroke-width="0.8"/>
<line x1="554.76" y1="12.50" x2="554.76" y2="11.40" stroke="#333" stroke-width="0.8"/>
<line x1="560.37" y1="12.50" x2="560.37" y2="11.40" stroke="#333" stroke-width="0.8"/>
<line x1="566.36" y1="12.50" x2="566.36" y2="10.20" stroke="#333" stroke-width="0.8"/>
<line x1="571.92" y1="12.50" x2="571.92" y2="11.40" stroke="#333" stroke-width="0.8"/>
<line x1="577.35" y1="12.50" x2="577.35" y2="11.40" stroke="#333" stroke-width="0.8"/>
<line x1="583.39" y1="12.50" x2="583.39" y2="11.40" stroke="#333" stroke-width="0.8"/>
<line x1="589.16" y1="12.50" x2="589.16" y2="10.20" stroke="#333" stroke-width="0.8"/>
<line x1="594.64" y1="12.50" x2="594.64" y2="11.40" stroke="#333" stroke-width="0.8"/>
<line x1="600.26" y1="12.50" x2="600.26" y2="11.40" stroke="#333" stroke-width="0.8"/>
<line x1="606.22" y1="12.50" x2="606.22" y2="11.40" stroke="#333" stroke-width="0.8"/>
<line x1="611.76" y1="12.50" x2="611.76" y2="10.20" stroke="#333" stroke-width="0.8"/>
<line x1="617.37" y1="12.50" x2="617.37" y2="11.40" stroke="#333" stroke-width="0.8"/>
<line x1="623.36" y1="12.50" x2="623.36" y2="11.40" stroke="#333" stroke-width="0.8"/>
<line x1="628.92" y1="12.50" x2="628.92" y2="11.40" stroke="#333" stroke-width="0.8"/>
<line x1="634.35" y1="12.50" x2="634.35" y2="10.20" stroke="#333" stroke-width="0.8"/>
<line x1="640.39" y1="12.50" x2="640.39" y2="11.40" stroke="#333" stroke-width="0.8"/>
<line x1="646.16" y1="12.50" x2="646.16" y2="11.40" stroke="#333" stroke-width="0.8"/>
<line x1="651.64" y1="12.50" x2="651.64" y2="11.40" stroke="#333" stroke-width="0.8"/>
<line x1="657.26" y1="12.50" x2="657.26" y2="10.20" stroke="#333" stroke-width="0.8"/>
<line x1="663.22" y1="12.50" x2="663.22" y2="11.40" stroke="#333" stroke-width="0.8"/>
<line x1="668.76" y1="12.50" x2="668.76" y2="11.40" stroke="#333" stroke-width="0.8"/>
<line x1="674.37" y1="12.50" x2="674.37" y2="11.40" stroke="#333" stroke-width="0.8"/>
<line x1="680.36" y1="12.50" x2="680.36" y2="10.20" stroke="#333" stroke-width="0.8"/>
<text transform="translate(452.36 7.00) scale(1 1.12)" font-size="4.7" text-anchor="middle" fill="#000" stroke-width="0.15">0</text>
<text transform="translate(475.16 7.00) scale(1 1.12)" font-size="4.7" text-anchor="middle" fill="#000" stroke-width="0.15">1</text>
<text transform="translate(497.96 7.00) scale(1 1.12)" font-size="4.7" text-anchor="middle" fill="#000" stroke-width="0.15">2</text>
<text transform="translate(520.76 7.00) scale(1 1.12)" font-size="4.7" text-anchor="middle" fill="#000" stroke-width="0.15">3</text>
<text transform="translate(543.56 7.00) scale(1 1.12)" font-size="4.7" text-anchor="middle" fill="#000" stroke-width="0.15">4</text>
<text transform="translate(566.36 7.00) scale(1 1.12)" font-size="4.7" text-anchor="middle" fill="#000" stroke-width="0.15">5</text>
<text transform="translate(589.16 7.00) scale(1 1.12)" font-size="4.7" text-anchor="middle" fill="#000" stroke-width="0.15">6</text>
<text transform="translate(611.96 7.00) scale(1 1.12)" font-size="4.7" text-anchor="middle" fill="#000" stroke-width="0.15">7</text>
<text transform="translate(634.76 7.00) scale(1 1.12)" font-size="4.7" text-anchor="middle" fill="#000" stroke-width="0.15">8</text>
<text transform="translate(657.56 7.00) scale(1 1.12)" font-size="4.7" text-anchor="middle" fill="#000" stroke-width="0.15">9</text>
<text transform="translate(680.36 7.00) scale(1 1.12)" font-size="4.7" text-anchor="middle" fill="#000" stroke-width="0.15">10</text>
<text transform="translate(372.90 14.20) scale(1 1.05)" font-size="5.9" text-anchor="start" fill="#000">Points</text>
<text transform="translate(372.70 33.60) scale(1 1.05)" font-size="5.9" text-anchor="start" fill="#000">Vascular invasion</text>
<text transform="translate(372.30 53.60) scale(1 1.05)" font-size="5.9" text-anchor="start" fill="#000">CIPI</text>
<text transform="translate(372.30 73.60) scale(1 1.05)" font-size="5.9" text-anchor="start" fill="#000">T stage</text>
<text transform="translate(372.30 93.60) scale(1 1.05)" font-size="5.9" text-anchor="start" fill="#000">N stage</text>
<text transform="translate(372.30 112.70) scale(1 1.05)" font-size="5.9" text-anchor="start" fill="#000">Age (years)</text>
<text transform="translate(372.30 135.20) scale(1 1.05)" font-size="5.9" text-anchor="start" fill="#000">Total Points</text>
<text transform="translate(372.30 154.00) scale(1 1.05)" font-size="5.9" text-anchor="start" fill="#000">1-year overall survival</text>
<text transform="translate(372.30 174.20) scale(1 1.05)" font-size="5.9" text-anchor="start" fill="#000">2-year overall survival</text>
<text transform="translate(372.30 194.10) scale(1 1.05)" font-size="5.9" text-anchor="start" fill="#000">3-year overall survival</text>
<text transform="translate(372.30 214.00) scale(1 1.05)" font-size="5.9" text-anchor="start" fill="#000">4-year overall survival</text>
<text transform="translate(372.30 233.80) scale(1 1.05)" font-size="5.9" text-anchor="start" fill="#000">5-year overall survival</text>
<line x1="452.36" y1="32.50" x2="505.48" y2="32.50" stroke="#444" stroke-width="0.75"/>
<line x1="452.36" y1="32.50" x2="452.36" y2="33.80" stroke="#444" stroke-width="0.7"/>
<text transform="translate(452.36 39.50) scale(1 1.08)" font-size="4.9" text-anchor="middle" fill="#000">Negative</text>
<line x1="505.48" y1="32.50" x2="505.48" y2="31.20" stroke="#444" stroke-width="0.7"/>
<text transform="translate(505.48 27.60) scale(1 1.08)" font-size="4.9" text-anchor="middle" fill="#000">Positive</text>
<line x1="452.36" y1="52.50" x2="512.55" y2="52.50" stroke="#444" stroke-width="0.75"/>
<line x1="452.36" y1="52.50" x2="452.36" y2="53.80" stroke="#444" stroke-width="0.7"/>
<text transform="translate(452.36 59.50) scale(1 1.08)" font-size="4.9" text-anchor="middle" fill="#000">Low</text>
<line x1="512.55" y1="52.50" x2="512.55" y2="51.20" stroke="#444" stroke-width="0.7"/>
<text transform="translate(512.55 47.60) scale(1 1.08)" font-size="4.9" text-anchor="middle" fill="#000">High</text>
<line x1="452.36" y1="72.50" x2="515.52" y2="72.50" stroke="#444" stroke-width="0.75"/>
<line x1="452.36" y1="72.50" x2="452.36" y2="73.80" stroke="#444" stroke-width="0.7"/>
<text transform="translate(452.36 79.50) scale(1 1.08)" font-size="4.9" text-anchor="middle" fill="#000">T1-2</text>
<line x1="515.52" y1="72.50" x2="515.52" y2="71.20" stroke="#444" stroke-width="0.7"/>
<text transform="translate(515.52 67.60) scale(1 1.08)" font-size="4.9" text-anchor="middle" fill="#000">T3-4</text>
<line x1="452.36" y1="92.50" x2="639.55" y2="92.50" stroke="#444" stroke-width="0.75"/>
<line x1="452.36" y1="92.50" x2="452.36" y2="93.80" stroke="#444" stroke-width="0.7"/>
<text transform="translate(452.36 99.50) scale(1 1.08)" font-size="4.9" text-anchor="middle" fill="#000">N0</text>
<line x1="521.44" y1="92.50" x2="521.44" y2="91.20" stroke="#444" stroke-width="0.7"/>
<text transform="translate(521.44 87.60) scale(1 1.08)" font-size="4.9" text-anchor="middle" fill="#000">N1</text>
<line x1="639.55" y1="92.50" x2="639.55" y2="93.80" stroke="#444" stroke-width="0.7"/>
<text transform="translate(639.55 99.50) scale(1 1.08)" font-size="4.9" text-anchor="middle" fill="#000">N2</text>
<line x1="452.36" y1="112.50" x2="452.36" y2="114.70" stroke="#555" stroke-width="0.8"/>
<text transform="translate(452.36 119.90) scale(1 1.12)" font-size="4.7" text-anchor="middle" fill="#000" stroke-width="0.15">10</text>
<line x1="477.69" y1="112.50" x2="477.69" y2="114.70" stroke="#555" stroke-width="0.8"/>
<text transform="translate(477.69 119.90) scale(1 1.12)" font-size="4.7" text-anchor="middle" fill="#000" stroke-width="0.15">20</text>
<line x1="503.03" y1="112.50" x2="503.03" y2="114.70" stroke="#555" stroke-width="0.8"/>
<text transform="translate(503.03 119.90) scale(1 1.12)" font-size="4.7" text-anchor="middle" fill="#000" stroke-width="0.15">30</text>
<line x1="528.36" y1="112.50" x2="528.36" y2="114.70" stroke="#555" stroke-width="0.8"/>
<text transform="translate(528.36 119.90) scale(1 1.12)" font-size="4.7" text-anchor="middle" fill="#000" stroke-width="0.15">40</text>
<line x1="553.69" y1="112.50" x2="553.69" y2="114.70" stroke="#555" stroke-width="0.8"/>
<text transform="translate(553.69 119.90) scale(1 1.12)" font-size="4.7" text-anchor="middle" fill="#000" stroke-width="0.15">50</text>
<line x1="579.03" y1="112.50" x2="579.03" y2="114.70" stroke="#555" stroke-width="0.8"/>
<text transform="translate(579.03 119.90) scale(1 1.12)" font-size="4.7" text-anchor="middle" fill="#000" stroke-width="0.15">60</text>
<line x1="604.36" y1="112.50" x2="604.36" y2="114.70" stroke="#555" stroke-width="0.8"/>
<text transform="translate(604.36 119.90) scale(1 1.12)" font-size="4.7" text-anchor="middle" fill="#000" stroke-width="0.15">70</text>
<line x1="629.69" y1="112.50" x2="629.69" y2="114.70" stroke="#555" stroke-width="0.8"/>
<text transform="translate(629.69 119.90) scale(1 1.12)" font-size="4.7" text-anchor="middle" fill="#000" stroke-width="0.15">80</text>
<line x1="655.03" y1="112.50" x2="655.03" y2="114.70" stroke="#555" stroke-width="0.8"/>
<text transform="translate(655.03 119.90) scale(1 1.12)" font-size="4.7" text-anchor="middle" fill="#000" stroke-width="0.15">90</text>
<line x1="680.36" y1="112.50" x2="680.36" y2="114.70" stroke="#555" stroke-width="0.8"/>
<text transform="translate(680.36 119.90) scale(1 1.12)" font-size="4.7" text-anchor="middle" fill="#000" stroke-width="0.15">100</text>
<line x1="452.36" y1="133.40" x2="680.36" y2="133.40" stroke="#858585" stroke-width="1.0"/>
<line x1="452.36" y1="133.20" x2="452.36" y2="135.40" stroke="#444" stroke-width="0.75"/>
<text transform="translate(452.36 140.80) scale(1 1.12)" font-size="4.7" text-anchor="middle" fill="#000" stroke-width="0.15">0</text>
<line x1="455.87" y1="133.20" x2="455.87" y2="134.30" stroke="#444" stroke-width="0.75"/>
<line x1="459.38" y1="133.20" x2="459.38" y2="134.30" stroke="#444" stroke-width="0.75"/>
<line x1="462.88" y1="133.20" x2="462.88" y2="134.30" stroke="#444" stroke-width="0.75"/>
<line x1="466.39" y1="133.20" x2="466.39" y2="134.30" stroke="#444" stroke-width="0.75"/>
<line x1="469.90" y1="133.20" x2="469.90" y2="135.40" stroke="#444" stroke-width="0.75"/>
<text transform="translate(469.90 140.80) scale(1 1.12)" font-size="4.7" text-anchor="middle" fill="#000" stroke-width="0.15">2</text>
<line x1="473.41" y1="133.20" x2="473.41" y2="134.30" stroke="#444" stroke-width="0.75"/>
<line x1="476.91" y1="133.20" x2="476.91" y2="134.30" stroke="#444" stroke-width="0.75"/>
<line x1="480.42" y1="133.20" x2="480.42" y2="134.30" stroke="#444" stroke-width="0.75"/>
<line x1="483.93" y1="133.20" x2="483.93" y2="134.30" stroke="#444" stroke-width="0.75"/>
<line x1="487.44" y1="133.20" x2="487.44" y2="135.40" stroke="#444" stroke-width="0.75"/>
<text transform="translate(487.44 140.80) scale(1 1.12)" font-size="4.7" text-anchor="middle" fill="#000" stroke-width="0.15">4</text>
<line x1="490.94" y1="133.20" x2="490.94" y2="134.30" stroke="#444" stroke-width="0.75"/>
<line x1="494.45" y1="133.20" x2="494.45" y2="134.30" stroke="#444" stroke-width="0.75"/>
<line x1="497.96" y1="133.20" x2="497.96" y2="134.30" stroke="#444" stroke-width="0.75"/>
<line x1="501.47" y1="133.20" x2="501.47" y2="134.30" stroke="#444" stroke-width="0.75"/>
<line x1="504.98" y1="133.20" x2="504.98" y2="135.40" stroke="#444" stroke-width="0.75"/>
<text transform="translate(504.98 140.80) scale(1 1.12)" font-size="4.7" text-anchor="middle" fill="#000" stroke-width="0.15">6</text>
<line x1="508.48" y1="133.20" x2="508.48" y2="134.30" stroke="#444" stroke-width="0.75"/>
<line x1="511.99" y1="133.20" x2="511.99" y2="134.30" stroke="#444" stroke-width="0.75"/>
<line x1="515.50" y1="133.20" x2="515.50" y2="134.30" stroke="#444" stroke-width="0.75"/>
<line x1="519.01" y1="133.20" x2="519.01" y2="134.30" stroke="#444" stroke-width="0.75"/>
<line x1="522.51" y1="133.20" x2="522.51" y2="135.40" stroke="#444" stroke-width="0.75"/>
<text transform="translate(522.51 140.80) scale(1 1.12)" font-size="4.7" text-anchor="middle" fill="#000" stroke-width="0.15">8</text>
<line x1="526.02" y1="133.20" x2="526.02" y2="134.30" stroke="#444" stroke-width="0.75"/>
<line x1="529.53" y1="133.20" x2="529.53" y2="134.30" stroke="#444" stroke-width="0.75"/>
<line x1="533.04" y1="133.20" x2="533.04" y2="134.30" stroke="#444" stroke-width="0.75"/>
<line x1="536.54" y1="133.20" x2="536.54" y2="134.30" stroke="#444" stroke-width="0.75"/>
<line x1="540.05" y1="133.20" x2="540.05" y2="135.40" stroke="#444" stroke-width="0.75"/>
<text transform="translate(540.05 140.80) scale(1 1.12)" font-size="4.7" text-anchor="middle" fill="#000" stroke-width="0.15">10</text>
<line x1="543.56" y1="133.20" x2="543.56" y2="134.30" stroke="#444" stroke-width="0.75"/>
<line x1="547.07" y1="133.20" x2="547.07" y2="134.30" stroke="#444" stroke-width="0.75"/>
<line x1="550.58" y1="133.20" x2="550.58" y2="134.30" stroke="#444" stroke-width="0.75"/>
<line x1="554.08" y1="133.20" x2="554.08" y2="134.30" stroke="#444" stroke-width="0.75"/>
<line x1="557.59" y1="133.20" x2="557.59" y2="135.40" stroke="#444" stroke-width="0.75"/>
<text transform="translate(557.59 140.80) scale(1 1.12)" font-size="4.7" text-anchor="middle" fill="#000" stroke-width="0.15">12</text>
<line x1="561.10" y1="133.20" x2="561.10" y2="134.30" stroke="#444" stroke-width="0.75"/>
<line x1="564.61" y1="133.20" x2="564.61" y2="134.30" stroke="#444" stroke-width="0.75"/>
<line x1="568.11" y1="133.20" x2="568.11" y2="134.30" stroke="#444" stroke-width="0.75"/>
<line x1="571.62" y1="133.20" x2="571.62" y2="134.30" stroke="#444" stroke-width="0.75"/>
<line x1="575.13" y1="133.20" x2="575.13" y2="135.40" stroke="#444" stroke-width="0.75"/>
<text transform="translate(575.13 140.80) scale(1 1.12)" font-size="4.7" text-anchor="middle" fill="#000" stroke-width="0.15">14</text>
<line x1="578.64" y1="133.20" x2="578.64" y2="134.30" stroke="#444" stroke-width="0.75"/>
<line x1="582.14" y1="133.20" x2="582.14" y2="134.30" stroke="#444" stroke-width="0.75"/>
<line x1="585.65" y1="133.20" x2="585.65" y2="134.30" stroke="#444" stroke-width="0.75"/>
<line x1="589.16" y1="133.20" x2="589.16" y2="134.30" stroke="#444" stroke-width="0.75"/>
<line x1="592.67" y1="133.20" x2="592.67" y2="135.40" stroke="#444" stroke-width="0.75"/>
<text transform="translate(592.67 140.80) scale(1 1.12)" font-size="4.7" text-anchor="middle" fill="#000" stroke-width="0.15">16</text>
<line x1="596.18" y1="133.20" x2="596.18" y2="134.30" stroke="#444" stroke-width="0.75"/>
<line x1="599.68" y1="133.20" x2="599.68" y2="134.30" stroke="#444" stroke-width="0.75"/>
<line x1="603.19" y1="133.20" x2="603.19" y2="134.30" stroke="#444" stroke-width="0.75"/>
<line x1="606.70" y1="133.20" x2="606.70" y2="134.30" stroke="#444" stroke-width="0.75"/>
<line x1="610.21" y1="133.20" x2="610.21" y2="135.40" stroke="#444" stroke-width="0.75"/>
<text transform="translate(610.21 140.80) scale(1 1.12)" font-size="4.7" text-anchor="middle" fill="#000" stroke-width="0.15">18</text>
<line x1="613.71" y1="133.20" x2="613.71" y2="134.30" stroke="#444" stroke-width="0.75"/>
<line x1="617.22" y1="133.20" x2="617.22" y2="134.30" stroke="#444" stroke-width="0.75"/>
<line x1="620.73" y1="133.20" x2="620.73" y2="134.30" stroke="#444" stroke-width="0.75"/>
<line x1="624.24" y1="133.20" x2="624.24" y2="134.30" stroke="#444" stroke-width="0.75"/>
<line x1="627.74" y1="133.20" x2="627.74" y2="135.40" stroke="#444" stroke-width="0.75"/>
<text transform="translate(627.74 140.80) scale(1 1.12)" font-size="4.7" text-anchor="middle" fill="#000" stroke-width="0.15">20</text>
<line x1="631.25" y1="133.20" x2="631.25" y2="134.30" stroke="#444" stroke-width="0.75"/>
<line x1="634.76" y1="133.20" x2="634.76" y2="134.30" stroke="#444" stroke-width="0.75"/>
<line x1="638.27" y1="133.20" x2="638.27" y2="134.30" stroke="#444" stroke-width="0.75"/>
<line x1="641.78" y1="133.20" x2="641.78" y2="134.30" stroke="#444" stroke-width="0.75"/>
<line x1="645.28" y1="133.20" x2="645.28" y2="135.40" stroke="#444" stroke-width="0.75"/>
<text transform="translate(645.28 140.80) scale(1 1.12)" font-size="4.7" text-anchor="middle" fill="#000" stroke-width="0.15">22</text>
<line x1="648.79" y1="133.20" x2="648.79" y2="134.30" stroke="#444" stroke-width="0.75"/>
<line x1="652.30" y1="133.20" x2="652.30" y2="134.30" stroke="#444" stroke-width="0.75"/>
<line x1="655.81" y1="133.20" x2="655.81" y2="134.30" stroke="#444" stroke-width="0.75"/>
<line x1="659.31" y1="133.20" x2="659.31" y2="134.30" stroke="#444" stroke-width="0.75"/>
<line x1="662.82" y1="133.20" x2="662.82" y2="135.40" stroke="#444" stroke-width="0.75"/>
<text transform="translate(662.82 140.80) scale(1 1.12)" font-size="4.7" text-anchor="middle" fill="#000" stroke-width="0.15">24</text>
<line x1="666.33" y1="133.20" x2="666.33" y2="134.30" stroke="#444" stroke-width="0.75"/>
<line x1="669.84" y1="133.20" x2="669.84" y2="134.30" stroke="#444" stroke-width="0.75"/>
<line x1="673.34" y1="133.20" x2="673.34" y2="134.30" stroke="#444" stroke-width="0.75"/>
<line x1="676.85" y1="133.20" x2="676.85" y2="134.30" stroke="#444" stroke-width="0.75"/>
<line x1="680.36" y1="133.20" x2="680.36" y2="135.40" stroke="#444" stroke-width="0.75"/>
<text transform="translate(680.36 140.80) scale(1 1.12)" font-size="4.7" text-anchor="middle" fill="#000" stroke-width="0.15">26</text>
<line x1="557.41" y1="153.50" x2="629.13" y2="153.50" stroke="#8a8a8a" stroke-width="1.0"/>
<line x1="557.41" y1="153.50" x2="557.41" y2="155.20" stroke="#6a6a6a" stroke-width="0.8"/>
<text transform="translate(557.41 160.50) scale(1 1.15)" font-size="4.75" text-anchor="middle" fill="#000">0.97</text>
<line x1="598.37" y1="153.50" x2="598.37" y2="155.20" stroke="#6a6a6a" stroke-width="0.8"/>
<text transform="translate(598.37 160.50) scale(1 1.15)" font-size="4.75" text-anchor="middle" fill="#000">0.94</text>
<line x1="629.13" y1="153.50" x2="629.13" y2="155.20" stroke="#6a6a6a" stroke-width="0.8"/>
<text transform="translate(629.13 160.50) scale(1 1.15)" font-size="4.75" text-anchor="middle" fill="#000">0.9</text>
<line x1="496.40" y1="173.50" x2="659.36" y2="173.50" stroke="#8a8a8a" stroke-width="1.0"/>
<line x1="496.40" y1="173.50" x2="496.40" y2="175.20" stroke="#6a6a6a" stroke-width="0.8"/>
<text transform="translate(496.40 180.70) scale(1 1.15)" font-size="4.75" text-anchor="middle" fill="#000">0.97</text>
<line x1="537.36" y1="173.50" x2="537.36" y2="175.20" stroke="#6a6a6a" stroke-width="0.8"/>
<text transform="translate(537.36 180.70) scale(1 1.15)" font-size="4.75" text-anchor="middle" fill="#000">0.94</text>
<line x1="568.12" y1="173.50" x2="568.12" y2="175.20" stroke="#6a6a6a" stroke-width="0.8"/>
<text transform="translate(568.12 180.70) scale(1 1.15)" font-size="4.75" text-anchor="middle" fill="#000">0.9</text>
<line x1="611.49" y1="173.50" x2="611.49" y2="175.20" stroke="#6a6a6a" stroke-width="0.8"/>
<text transform="translate(611.49 180.70) scale(1 1.15)" font-size="4.75" text-anchor="middle" fill="#000">0.80</text>
<line x1="638.60" y1="173.50" x2="638.60" y2="175.20" stroke="#6a6a6a" stroke-width="0.8"/>
<text transform="translate(638.60 180.70) scale(1 1.15)" font-size="4.75" text-anchor="middle" fill="#000">0.70</text>
<line x1="659.36" y1="173.50" x2="659.36" y2="175.20" stroke="#6a6a6a" stroke-width="0.8"/>
<text transform="translate(659.36 180.70) scale(1 1.15)" font-size="4.75" text-anchor="middle" fill="#000">0.6</text>
<line x1="495.31" y1="193.50" x2="651.08" y2="193.50" stroke="#8a8a8a" stroke-width="1.0"/>
<line x1="495.31" y1="193.50" x2="495.31" y2="195.20" stroke="#6a6a6a" stroke-width="0.8"/>
<text transform="translate(495.31 200.70) scale(1 1.15)" font-size="4.75" text-anchor="middle" fill="#000">0.94</text>
<line x1="526.07" y1="193.50" x2="526.07" y2="195.20" stroke="#6a6a6a" stroke-width="0.8"/>
<text transform="translate(526.07 200.70) scale(1 1.15)" font-size="4.75" text-anchor="middle" fill="#000">0.9</text>
<line x1="569.44" y1="193.50" x2="569.44" y2="195.20" stroke="#6a6a6a" stroke-width="0.8"/>
<text transform="translate(569.44 200.70) scale(1 1.15)" font-size="4.75" text-anchor="middle" fill="#000">0.80</text>
<line x1="596.55" y1="193.50" x2="596.55" y2="195.20" stroke="#6a6a6a" stroke-width="0.8"/>
<text transform="translate(596.55 200.70) scale(1 1.15)" font-size="4.75" text-anchor="middle" fill="#000">0.70</text>
<line x1="617.31" y1="193.50" x2="617.31" y2="195.20" stroke="#6a6a6a" stroke-width="0.8"/>
<text transform="translate(617.31 200.70) scale(1 1.15)" font-size="4.75" text-anchor="middle" fill="#000">0.6</text>
<line x1="634.95" y1="193.50" x2="634.95" y2="195.20" stroke="#6a6a6a" stroke-width="0.8"/>
<text transform="translate(634.95 200.70) scale(1 1.15)" font-size="4.75" text-anchor="middle" fill="#000">0.5</text>
<line x1="651.08" y1="193.50" x2="651.08" y2="195.20" stroke="#6a6a6a" stroke-width="0.8"/>
<text transform="translate(651.08 200.70) scale(1 1.15)" font-size="4.75" text-anchor="middle" fill="#000">0.4</text>
<line x1="474.01" y1="213.50" x2="662.33" y2="213.50" stroke="#8a8a8a" stroke-width="1.0"/>
<line x1="474.01" y1="213.50" x2="474.01" y2="215.20" stroke="#6a6a6a" stroke-width="0.8"/>
<text transform="translate(474.01 221.10) scale(1 1.15)" font-size="4.75" text-anchor="middle" fill="#000">0.94</text>
<line x1="504.77" y1="213.50" x2="504.77" y2="215.20" stroke="#6a6a6a" stroke-width="0.8"/>
<text transform="translate(504.77 221.10) scale(1 1.15)" font-size="4.75" text-anchor="middle" fill="#000">0.9</text>
<line x1="548.14" y1="213.50" x2="548.14" y2="215.20" stroke="#6a6a6a" stroke-width="0.8"/>
<text transform="translate(548.14 221.10) scale(1 1.15)" font-size="4.75" text-anchor="middle" fill="#000">0.80</text>
<line x1="575.25" y1="213.50" x2="575.25" y2="215.20" stroke="#6a6a6a" stroke-width="0.8"/>
<text transform="translate(575.25 221.10) scale(1 1.15)" font-size="4.75" text-anchor="middle" fill="#000">0.70</text>
<line x1="596.01" y1="213.50" x2="596.01" y2="215.20" stroke="#6a6a6a" stroke-width="0.8"/>
<text transform="translate(596.01 221.10) scale(1 1.15)" font-size="4.75" text-anchor="middle" fill="#000">0.6</text>
<line x1="613.65" y1="213.50" x2="613.65" y2="215.20" stroke="#6a6a6a" stroke-width="0.8"/>
<text transform="translate(613.65 221.10) scale(1 1.15)" font-size="4.75" text-anchor="middle" fill="#000">0.5</text>
<line x1="629.78" y1="213.50" x2="629.78" y2="215.20" stroke="#6a6a6a" stroke-width="0.8"/>
<text transform="translate(629.78 221.10) scale(1 1.15)" font-size="4.75" text-anchor="middle" fill="#000">0.4</text>
<line x1="645.56" y1="213.50" x2="645.56" y2="215.20" stroke="#6a6a6a" stroke-width="0.8"/>
<text transform="translate(645.56 221.10) scale(1 1.15)" font-size="4.75" text-anchor="middle" fill="#000">0.3</text>
<line x1="662.33" y1="213.50" x2="662.33" y2="215.20" stroke="#6a6a6a" stroke-width="0.8"/>
<text transform="translate(662.33 221.10) scale(1 1.15)" font-size="4.75" text-anchor="middle" fill="#000">0.2</text>
<line x1="461.93" y1="233.50" x2="650.25" y2="233.50" stroke="#8a8a8a" stroke-width="1.0"/>
<line x1="461.93" y1="233.50" x2="461.93" y2="235.20" stroke="#6a6a6a" stroke-width="0.8"/>
<text transform="translate(461.93 241.20) scale(1 1.15)" font-size="4.75" text-anchor="middle" fill="#000">0.94</text>
<line x1="492.69" y1="233.50" x2="492.69" y2="235.20" stroke="#6a6a6a" stroke-width="0.8"/>
<text transform="translate(492.69 241.20) scale(1 1.15)" font-size="4.75" text-anchor="middle" fill="#000">0.9</text>
<line x1="536.06" y1="233.50" x2="536.06" y2="235.20" stroke="#6a6a6a" stroke-width="0.8"/>
<text transform="translate(536.06 241.20) scale(1 1.15)" font-size="4.75" text-anchor="middle" fill="#000">0.80</text>
<line x1="563.17" y1="233.50" x2="563.17" y2="235.20" stroke="#6a6a6a" stroke-width="0.8"/>
<text transform="translate(563.17 241.20) scale(1 1.15)" font-size="4.75" text-anchor="middle" fill="#000">0.70</text>
<line x1="583.93" y1="233.50" x2="583.93" y2="235.20" stroke="#6a6a6a" stroke-width="0.8"/>
<text transform="translate(583.93 241.20) scale(1 1.15)" font-size="4.75" text-anchor="middle" fill="#000">0.6</text>
<line x1="601.57" y1="233.50" x2="601.57" y2="235.20" stroke="#6a6a6a" stroke-width="0.8"/>
<text transform="translate(601.57 241.20) scale(1 1.15)" font-size="4.75" text-anchor="middle" fill="#000">0.5</text>
<line x1="617.70" y1="233.50" x2="617.70" y2="235.20" stroke="#6a6a6a" stroke-width="0.8"/>
<text transform="translate(617.70 241.20) scale(1 1.15)" font-size="4.75" text-anchor="middle" fill="#000">0.4</text>
<line x1="633.48" y1="233.50" x2="633.48" y2="235.20" stroke="#6a6a6a" stroke-width="0.8"/>
<text transform="translate(633.48 241.20) scale(1 1.15)" font-size="4.75" text-anchor="middle" fill="#000">0.3</text>
<line x1="650.25" y1="233.50" x2="650.25" y2="235.20" stroke="#6a6a6a" stroke-width="0.8"/>
<text transform="translate(650.25 241.20) scale(1 1.15)" font-size="4.75" text-anchor="middle" fill="#000">0.2</text>
</svg></div>
</body></html>
